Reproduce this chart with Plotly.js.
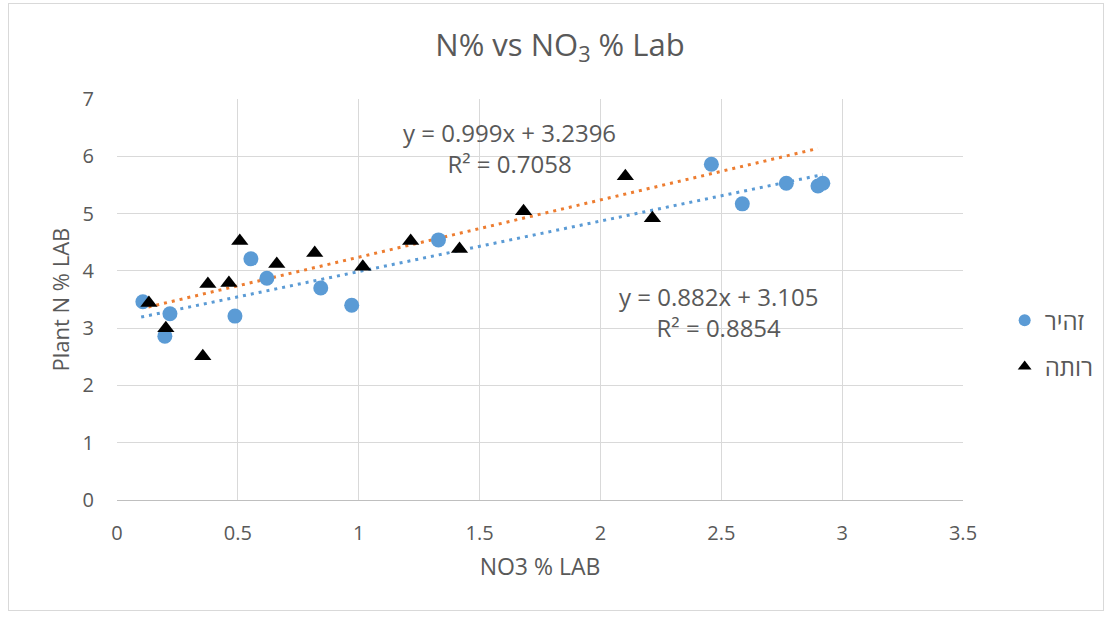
<!DOCTYPE html>
<html>
<head>
<meta charset="utf-8">
<script src="https://cdn.plot.ly/plotly-3.0.1.min.js"></script>
<style>
html,body{margin:0;padding:0;background:#fff;}
#frame{position:absolute;left:8px;top:3px;width:1096px;height:608px;border:1px solid #d9d9d9;box-sizing:border-box;}
#chart{position:absolute;left:0;top:0;width:1110px;height:617px;}
</style>
</head>
<body>
<div id="frame"></div>
<div id="chart"></div>
<script>
// Series "זהיר" (blue circles)
const zahirX = [0.107, 0.198, 0.219, 0.488, 0.554, 0.620, 0.843, 0.971, 1.330, 2.459, 2.587, 2.769, 2.900, 2.920];
const zahirY = [3.46, 2.86, 3.25, 3.21, 4.21, 3.87, 3.70, 3.40, 4.54, 5.86, 5.17, 5.53, 5.48, 5.53];
// Series "רותה" (black triangles)
const rutaX = [0.132, 0.202, 0.355, 0.376, 0.463, 0.508, 0.661, 0.818, 1.017, 1.215, 1.417, 1.682, 2.103, 2.215];
const rutaY = [3.44, 3.00, 2.51, 3.77, 3.79, 4.52, 4.12, 4.31, 4.07, 4.52, 4.38, 5.04, 5.65, 4.92];
// Trendline equations (slope, intercept) and x extents as shown
const zahirFit = [0.882, 3.105];
const zahirFitRange = [0.10, 2.92];
const rutaFit = [0.999, 3.2396];
const rutaFitRange = [0.13, 2.90];
const seriesNames = ["זהיר", "רותה"];
const eqTexts = ["y = 0.999x + 3.2396<br>R² = 0.7058", "y = 0.882x + 3.105<br>R² = 0.8854"];
const yTitle = "Plant N % LAB";
const xTitle = "NO3 % LAB";

function line(fit, range){ return {x: range, y: range.map(v => fit[0]*v + fit[1])}; }
const zl = line(zahirFit, zahirFitRange);
const rl = line(rutaFit, rutaFitRange);

const font = "Open Sans, Noto Sans, DejaVu Sans, sans-serif";
const grey = "#595959";

const data = [
  {x: zl.x, y: zl.y, mode: "lines", line: {color: "#5B9BD5", width: 3, dash: "3px,5px"}, showlegend: false, hoverinfo: "skip"},
  {x: rl.x, y: rl.y, mode: "lines", line: {color: "#ED7D31", width: 3, dash: "3px,5px"}, showlegend: false, hoverinfo: "skip"},
  {x: zahirX, y: zahirY, name: seriesNames[0], mode: "markers", legendgroup: "a",
   marker: {symbol: "circle", size: 15, color: "#5B9BD5"}},
  {x: rutaX, y: rutaY, name: seriesNames[1], mode: "markers", legendgroup: "b",
   marker: {symbol: "triangle-up", size: 15, color: "#000000"}}
];

const layout = {
  width: 1110, height: 617,
  paper_bgcolor: "rgba(0,0,0,0)", plot_bgcolor: "rgba(0,0,0,0)",
  margin: {l: 117, r: 146, t: 99, b: 117},
  font: {family: font, color: grey, size: 20},
  title: {text: "N% vs NO<sub>3</sub> % Lab", font: {family: font, size: 31, color: grey},
          xref: "container", x: 0.5045, xanchor: "center", yref: "container", y: 0.927, yanchor: "middle"},
  xaxis: {range: [0, 3.5], dtick: 0.5, showgrid: true, gridcolor: "#d9d9d9", gridwidth: 1,
          zeroline: false, showline: true, linecolor: "#bfbfbf", ticks: "outside", ticklen: 15, tickcolor: "rgba(0,0,0,0)",
          tickfont: {size: 20, color: grey}, title: {text: xTitle, font: {size: 23, color: grey}, standoff: 13}},
  yaxis: {range: [0, 7], dtick: 1, showgrid: true, gridcolor: "#d9d9d9", gridwidth: 1,
          zeroline: false, showline: false, ticks: "outside", ticklen: 18, tickcolor: "rgba(0,0,0,0)",
          tickfont: {size: 20, color: grey}},
  showlegend: true,
  legend: {x: 1.048, xanchor: "left", y: 0.39, yanchor: "middle", font: {size: 24, color: grey},
           tracegroupgap: 12, bgcolor: "rgba(0,0,0,0)", itemsizing: "constant"},
  annotations: [
    {xref: "x", yref: "y", x: 1.624, y: 6.15, text: eqTexts[0], showarrow: false, font: {size: 24, color: grey}, align: "center"},
    {xref: "x", yref: "y", x: 2.488, y: 3.29, text: eqTexts[1], showarrow: false, font: {size: 24, color: grey}, align: "center"},
    {xref: "paper", yref: "paper", x: -0.0685, y: 0.5, xanchor: "center", yanchor: "middle", textangle: -90,
     text: yTitle, showarrow: false, font: {size: 22, color: grey}}
  ]
};

Plotly.newPlot("chart", data, layout, {displayModeBar: false, staticPlot: true});
</script>
</body>
</html>
